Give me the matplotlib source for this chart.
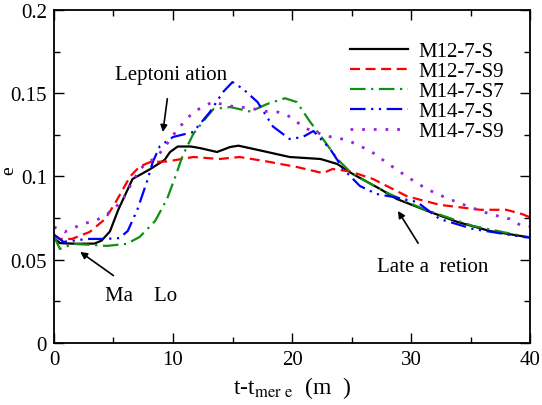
import matplotlib
matplotlib.use("Agg")
import matplotlib.pyplot as plt
from matplotlib import font_manager

names = sorted({f.name for f in font_manager.fontManager.ttflist})
serif_pref = [n for n in ['Liberation Serif', 'Times New Roman', 'Nimbus Roman', 'STIXGeneral', 'DejaVu Serif'] if n in names]
plt.rcParams['font.family'] = 'serif'
plt.rcParams['font.serif'] = serif_pref
plt.rcParams['mathtext.fontset'] = 'stix'

# M12-7-S (black solid)
x_m12s = [0, 0.5, 1, 2, 3.4, 4.0, 4.7, 5.4, 6.6, 8.1, 9.3, 9.75, 10.4, 11.5, 12.3, 13.7, 14.8, 15.5, 17.1, 19.8, 22.4, 23.8, 25.1, 27.4, 28.8, 31.6, 33.9, 36.6, 39.7, 40]
y_m12s = [0.063, 0.0600, 0.0598, 0.0596, 0.0597, 0.0615, 0.067, 0.080, 0.0985, 0.1045, 0.110, 0.1147, 0.118, 0.118, 0.117, 0.1147, 0.1177, 0.1185, 0.116, 0.1117, 0.1105, 0.1075, 0.1015, 0.0925, 0.0865, 0.0787, 0.0727, 0.0673, 0.0637, 0.0635]

# M12-7-S9 (red dashed)
x_m12s9 = [0, 0.5, 1.5, 3.0, 4.3, 5.1, 6.4, 7.2, 8.1, 9.5, 11.7, 13.9, 15.6, 17.9, 20.4, 22.6, 23.4, 24.9, 26.8, 29.7, 32.4, 35.8, 38.0, 39.3, 40]
y_m12s9 = [0.065, 0.0625, 0.0625, 0.0667, 0.0745, 0.0835, 0.100, 0.106, 0.1087, 0.109, 0.1117, 0.1105, 0.1117, 0.109, 0.1057, 0.102, 0.1045, 0.103, 0.0985, 0.088, 0.083, 0.080, 0.080, 0.0775, 0.0755]

# M14-7-S7 (green dash-dot)
x_m14s7 = [0, 0.5, 1.6, 3.0, 4.4, 6.1, 7.2, 8.5, 9.5, 10.2, 10.8, 11.7, 12.9, 13.4, 14.8, 16.5, 17.9, 19.4, 20.4, 21.5, 22.6, 23.8, 24.9, 26.6, 28.2, 31.0, 35.2, 39.7, 40]
y_m14s7 = [0.064, 0.0565, 0.0595, 0.059, 0.0583, 0.0595, 0.0637, 0.0733, 0.0865, 0.100, 0.1123, 0.1255, 0.1363, 0.1405, 0.1417, 0.139, 0.1435, 0.147, 0.1447, 0.133, 0.1225, 0.1105, 0.1027, 0.0955, 0.0895, 0.0805, 0.0703, 0.0637, 0.0635]

# M14-7-S (blue dash-dot-dot)
x_m14s = [0, 0.8, 2.8, 4.3, 5.5, 6.2, 7.0, 7.8, 8.3, 8.9, 10.0, 11.7, 13.1, 14.2, 15.0, 15.9, 17.1, 18.4, 19.8, 20.9, 21.8, 23.2, 24.3, 25.7, 27.1, 28.5, 30.5, 32.4, 35.2, 39.4, 40]
y_m14s = [0.065, 0.0607, 0.0625, 0.0625, 0.063, 0.0673, 0.080, 0.0967, 0.1087, 0.1183, 0.1237, 0.1267, 0.1387, 0.1507, 0.1567, 0.1525, 0.1447, 0.130, 0.1225, 0.1237, 0.1273, 0.1165, 0.1045, 0.0943, 0.0895, 0.0877, 0.0847, 0.0745, 0.0685, 0.0637, 0.0633]

# M14-7-S9 (purple dotted)
x_m14s9 = [0, 0.9, 2.4, 3.4, 4.3, 5.7, 6.4, 7.2, 8.7, 9.3, 10.4, 11.7, 13.3, 14.8, 16.5, 17.9, 18.8, 19.7, 20.4, 21.3, 22.9, 24.6, 25.7, 26.6, 28.1, 29.7, 31.3, 33.0, 34.7, 36.6, 38.3, 39.3, 40]
y_m14s9 = [0.0697, 0.0667, 0.0715, 0.0733, 0.0763, 0.085, 0.0943, 0.1045, 0.1123, 0.1177, 0.1285, 0.1387, 0.1447, 0.1423, 0.141, 0.139, 0.1387, 0.1363, 0.1327, 0.1285, 0.1243, 0.122, 0.1183, 0.1153, 0.1075, 0.0997, 0.0925, 0.087, 0.0823, 0.0775, 0.0745, 0.0703, 0.070]

labels = ["M12-7-S", "M12-7-S9", "M14-7-S7", "M14-7-S", "M14-7-S9"]
x_ticks = [0, 10, 20, 30, 40]
y_ticks = [0, 0.05, 0.1, 0.15, 0.2]
y_tick_labels = ["0", "0.05", "0.1", "0.15", "0.2"]

fig = plt.figure(figsize=(5.42, 4.06), dpi=100)
ax = fig.add_axes([0.0996, 0.1527, 0.8784, 0.8203])

ax.plot(x_m12s, y_m12s, color='black', lw=1.6, ls='-', label=labels[0])
ax.plot(x_m12s9, y_m12s9, color='red', lw=1.6, ls=(0, (4.5, 2.5)), label=labels[1])
ax.plot(x_m14s7, y_m14s7, color='#109010', lw=1.6, ls=(0, (7, 2.5, 1, 2.5)), label=labels[2])
ax.plot(x_m14s, y_m14s, color='blue', lw=1.6, ls=(0, (7, 2.5, 1, 2.5, 1, 2.5)), label=labels[3])
ax.plot(x_m14s9, y_m14s9, color='#9a20e0', lw=2.0, ls=(0, (1, 3.2)), label=labels[4])

ax.set_xlim(0, 40)
ax.set_ylim(0, 0.2)
ax.set_xticks(x_ticks)
ax.set_yticks(y_ticks)
ax.set_yticklabels(y_tick_labels)
ax.set_xticks([5, 15, 25, 35], minor=True)
ax.set_yticks([0.025, 0.075, 0.125, 0.175], minor=True)
ax.tick_params(which='both', direction='in', top=True, right=True, labelsize=15)
ax.tick_params(which='major', length=7, width=1, pad=5)
ax.tick_params(which='minor', length=4, width=1)
for s in ax.spines.values():
    s.set_linewidth(1.3)

ax.set_xlabel(r"t-t$_{\mathrm{mer\ e}}$  (m  )", fontsize=17, labelpad=4)
ax.set_ylabel("e", fontsize=14)
ax.yaxis.set_label_coords(-0.078, 0.52)

arrow = dict(arrowstyle='-|>', color='black', lw=1.2, mutation_scale=10, shrinkB=0, shrinkA=9)
ax.annotate("Leptoni ation", xy=(9.15, 0.1267), xytext=(9.8, 0.1615),
            fontsize=15, ha='center', va='center', arrowprops=arrow)
ax.annotate("Ma    Lo", xy=(2.2, 0.0547), xytext=(7.3, 0.0288),
            fontsize=15, ha='center', va='center', arrowprops=arrow)
ax.annotate("Late a  retion", xy=(28.9, 0.0793), xytext=(31.8, 0.0462),
            fontsize=15, ha='center', va='center', arrowprops=arrow)

leg = ax.legend(loc='upper left', bbox_to_anchor=(0.622, 0.905), frameon=False, fontsize=15,
                handlelength=2.8, handletextpad=0.48, labelspacing=0.02, borderaxespad=0.0,
                borderpad=0.0)

fig.savefig("out.png", dpi=100)
